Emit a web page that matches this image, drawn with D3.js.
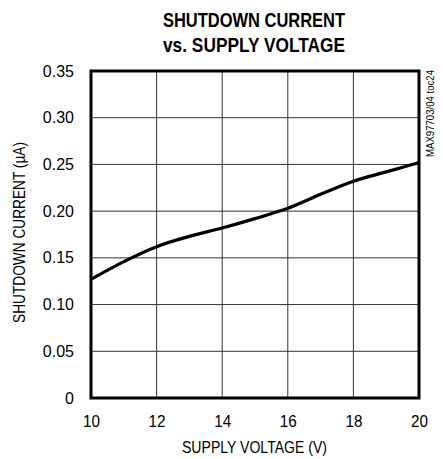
<!DOCTYPE html>
<html>
<head>
<meta charset="utf-8">
<script src="https://d3js.org/d3.v7.min.js"></script>
<style>
  body { margin: 0; background: #fff; }
</style>
</head>
<body>
<div id="chart"></div>
<script>
// data
const supplyVoltage = [10, 11, 12, 13, 14, 15, 16, 17, 18, 19, 20];
const shutdownCurrent = [0.127, 0.146, 0.162, 0.173, 0.182, 0.192, 0.203, 0.218, 0.232, 0.242, 0.252];
const xTicks = [10, 12, 14, 16, 18, 20];
const yTicks = [0, 0.05, 0.10, 0.15, 0.20, 0.25, 0.30, 0.35];

const width = 443, height = 459;
const plotLeft = 91, plotRight = 419, plotTop = 71, plotBottom = 398;
const font = "'Liberation Sans Narrow', 'Liberation Sans', sans-serif";

const svg = d3.select("#chart").append("svg")
    .attr("width", width)
    .attr("height", height);

const x = d3.scaleLinear().domain([10, 20]).range([plotLeft, plotRight]);
const y = d3.scaleLinear().domain([0, 0.35]).range([plotBottom, plotTop]);

// Title
svg.append("text")
    .attr("x", 254)
    .attr("y", 27)
    .attr("font-family", font)
    .attr("font-size", "21px")
    .attr("font-weight", "bold")
    .attr("text-anchor", "middle")
    .attr("textLength", 182)
    .attr("lengthAdjust", "spacingAndGlyphs")
    .text("SHUTDOWN CURRENT");

svg.append("text")
    .attr("x", 254)
    .attr("y", 52)
    .attr("font-family", font)
    .attr("font-size", "21px")
    .attr("font-weight", "bold")
    .attr("text-anchor", "middle")
    .attr("textLength", 182)
    .attr("lengthAdjust", "spacingAndGlyphs")
    .text("vs. SUPPLY VOLTAGE");

// grid
svg.append("g")
    .selectAll("line")
    .data(xTicks.slice(1, -1))
    .join("line")
    .attr("x1", d => x(d))
    .attr("x2", d => x(d))
    .attr("y1", plotTop)
    .attr("y2", plotBottom)
    .attr("stroke", "#333")
    .attr("stroke-width", 1);

svg.append("g")
    .selectAll("line")
    .data(yTicks.slice(1, -1))
    .join("line")
    .attr("x1", plotLeft)
    .attr("x2", plotRight)
    .attr("y1", d => y(d))
    .attr("y2", d => y(d))
    .attr("stroke", "#333")
    .attr("stroke-width", 1);

// axes (labels only)
const xAxis = svg.append("g")
    .attr("transform", `translate(0,${plotBottom})`)
    .call(d3.axisBottom(x).tickValues(xTicks).tickSize(0).tickPadding(18).tickFormat(d3.format("d")));
xAxis.select(".domain").remove();
xAxis.selectAll("text")
    .attr("font-family", font)
    .attr("font-size", "16px")
    .attr("textLength", 17)
    .attr("lengthAdjust", "spacingAndGlyphs")
    .attr("fill", "#000");

const yAxis = svg.append("g")
    .attr("transform", `translate(${plotLeft},0)`)
    .call(d3.axisLeft(y).tickValues(yTicks).tickSize(0).tickPadding(17)
        .tickFormat(d => d === 0 ? "0" : d3.format(".2f")(d)));
yAxis.select(".domain").remove();
yAxis.selectAll("text")
    .attr("font-family", font)
    .attr("font-size", "16px")
    .attr("fill", "#000");

// curve
const line = d3.line()
    .x((d, i) => x(supplyVoltage[i]))
    .y(d => y(d))
    .curve(d3.curveMonotoneX);

svg.append("path")
    .datum(shutdownCurrent)
    .attr("d", line)
    .attr("fill", "none")
    .attr("stroke", "#000")
    .attr("stroke-width", 3.2);

// frame
svg.append("rect")
    .attr("x", plotLeft)
    .attr("y", plotTop)
    .attr("width", plotRight - plotLeft)
    .attr("height", plotBottom - plotTop)
    .attr("fill", "none")
    .attr("stroke", "#000")
    .attr("stroke-width", 3);

// axis titles
svg.append("text")
    .attr("x", 254.5)
    .attr("y", 453)
    .attr("font-family", font)
    .attr("font-size", "16px")
    .attr("text-anchor", "middle")
    .attr("textLength", 145)
    .attr("lengthAdjust", "spacingAndGlyphs")
    .text("SUPPLY VOLTAGE (V)");

svg.append("text")
    .attr("transform", "translate(25,232.5) rotate(-90)")
    .attr("font-family", font)
    .attr("font-size", "16px")
    .attr("text-anchor", "middle")
    .attr("textLength", 181)
    .attr("lengthAdjust", "spacingAndGlyphs")
    .text("SHUTDOWN CURRENT (\u00b5A)");

svg.append("text")
    .attr("transform", "translate(434,70) rotate(-90)")
    .attr("font-family", font)
    .attr("font-size", "10px")
    .attr("text-anchor", "end")
    .attr("textLength", 87)
    .attr("lengthAdjust", "spacingAndGlyphs")
    .text("MAX97703/04 toc24");
</script>
</body>
</html>
